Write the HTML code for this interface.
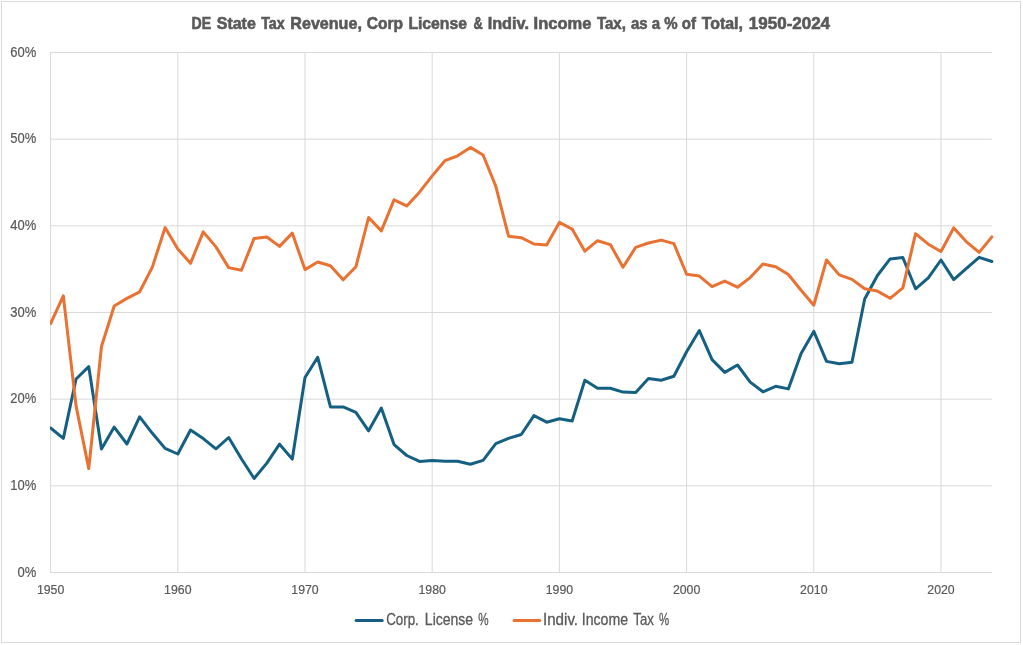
<!DOCTYPE html>
<html lang="en">
<head>
<meta charset="utf-8">
<title>DE State Tax Revenue</title>
<style>
html,body{margin:0;padding:0;background:#fff;}
body{width:1023px;height:645px;overflow:hidden;font-family:"Liberation Sans",sans-serif;}
svg{display:block;}
.tick text{font-family:"Liberation Sans",sans-serif;font-size:12.3px;fill:#595959;stroke:#595959;stroke-width:0.2px;}
.tick text.yl{font-size:14px;}
.title{font-family:"Liberation Sans",sans-serif;font-size:16.3px;font-weight:bold;fill:#595959;stroke:#595959;stroke-width:0.6px;}
.leg{font-family:"Liberation Sans",sans-serif;font-size:15.7px;fill:#595959;stroke:#595959;stroke-width:0.3px;}
</style>
</head>
<body>
<svg width="1023" height="645" viewBox="0 0 1023 645">
<rect x="0" y="0" width="1023" height="645" fill="#ffffff"/>
<rect x="1.5" y="1.5" width="1019" height="641" fill="none" stroke="#D9D9D9" stroke-width="1"/>
<g stroke="#D9D9D9" stroke-width="1" fill="none">
<line x1="50.10" y1="572.50" x2="991.88" y2="572.50"/>
<line x1="50.10" y1="485.83" x2="991.88" y2="485.83"/>
<line x1="50.10" y1="399.16" x2="991.88" y2="399.16"/>
<line x1="50.10" y1="312.49" x2="991.88" y2="312.49"/>
<line x1="50.10" y1="225.82" x2="991.88" y2="225.82"/>
<line x1="50.10" y1="139.15" x2="991.88" y2="139.15"/>
<line x1="50.10" y1="52.48" x2="991.88" y2="52.48"/>
<line x1="50.60" y1="51.98" x2="50.60" y2="573.00"/>
<line x1="177.80" y1="51.98" x2="177.80" y2="573.00"/>
<line x1="305.00" y1="51.98" x2="305.00" y2="573.00"/>
<line x1="432.20" y1="51.98" x2="432.20" y2="573.00"/>
<line x1="559.40" y1="51.98" x2="559.40" y2="573.00"/>
<line x1="686.60" y1="51.98" x2="686.60" y2="573.00"/>
<line x1="813.80" y1="51.98" x2="813.80" y2="573.00"/>
<line x1="941.00" y1="51.98" x2="941.00" y2="573.00"/>
</g>
<text class="title" y="29.4"><tspan x="191.48" textLength="19.59" lengthAdjust="spacingAndGlyphs">DE</tspan> <tspan x="216.75" textLength="39.1" lengthAdjust="spacingAndGlyphs">State</tspan> <tspan x="261.2" textLength="23.55" lengthAdjust="spacingAndGlyphs">Tax</tspan> <tspan x="290.36" textLength="71.5" lengthAdjust="spacingAndGlyphs">Revenue,</tspan> <tspan x="366.7" textLength="36.25" lengthAdjust="spacingAndGlyphs">Corp</tspan> <tspan x="408.38" textLength="58.62" lengthAdjust="spacingAndGlyphs">License</tspan> <tspan x="473.4" textLength="9.26" lengthAdjust="spacingAndGlyphs">&amp;</tspan> <tspan x="487.7" textLength="41.22" lengthAdjust="spacingAndGlyphs">Indiv.</tspan> <tspan x="533.58" textLength="57.87" lengthAdjust="spacingAndGlyphs">Income</tspan> <tspan x="596.9" textLength="28.98" lengthAdjust="spacingAndGlyphs">Tax,</tspan> <tspan x="630.95" textLength="65.02" lengthAdjust="spacingAndGlyphs">as a % of</tspan> <tspan x="701.7" textLength="41.21" lengthAdjust="spacingAndGlyphs">Total,</tspan> <tspan x="748.86" textLength="81.2" lengthAdjust="spacingAndGlyphs">1950-2024</tspan></text>
<g class="tick">
<text class="yl" x="17.46" y="576.65" textLength="18.79" lengthAdjust="spacingAndGlyphs">0%</text>
<text class="yl" x="10.24" y="489.98" textLength="26.01" lengthAdjust="spacingAndGlyphs">10%</text>
<text class="yl" x="10.24" y="403.31" textLength="26.01" lengthAdjust="spacingAndGlyphs">20%</text>
<text class="yl" x="10.24" y="316.64" textLength="26.01" lengthAdjust="spacingAndGlyphs">30%</text>
<text class="yl" x="10.24" y="229.97" textLength="26.01" lengthAdjust="spacingAndGlyphs">40%</text>
<text class="yl" x="10.24" y="143.30" textLength="26.01" lengthAdjust="spacingAndGlyphs">50%</text>
<text class="yl" x="10.24" y="56.63" textLength="26.01" lengthAdjust="spacingAndGlyphs">60%</text>
<text x="50.60" y="594" text-anchor="middle">1950</text>
<text x="177.80" y="594" text-anchor="middle">1960</text>
<text x="305.00" y="594" text-anchor="middle">1970</text>
<text x="432.20" y="594" text-anchor="middle">1980</text>
<text x="559.40" y="594" text-anchor="middle">1990</text>
<text x="686.60" y="594" text-anchor="middle">2000</text>
<text x="813.80" y="594" text-anchor="middle">2010</text>
<text x="941.00" y="594" text-anchor="middle">2020</text>
</g>
<clipPath id="plotclip"><rect x="50.1" y="40" width="960" height="545"/></clipPath>
<g clip-path="url(#plotclip)">
<polyline fill="none" stroke="#156082" stroke-width="3" stroke-linejoin="round" stroke-linecap="round" points="50.60,428.0 63.32,438.4 76.04,379.0 88.76,366.7 101.48,448.9 114.20,427.1 126.92,444.0 139.64,416.8 152.36,433.3 165.08,448.4 177.80,454.0 190.52,430.0 203.24,438.6 215.96,448.8 228.68,437.5 241.40,458.7 254.12,478.5 266.84,463.1 279.56,444.2 292.28,459.1 305.00,377.5 317.72,357.3 330.44,406.9 343.16,406.9 355.88,412.3 368.60,430.8 381.32,408.1 394.04,444.6 406.76,455.5 419.48,461.4 432.20,460.6 444.92,461.2 457.64,461.2 470.36,464.3 483.08,460.4 495.80,443.7 508.52,438.4 521.24,434.5 533.96,415.6 546.68,422.2 559.40,418.7 572.12,421.0 584.84,380.3 597.56,388.2 610.28,388.2 623.00,392.1 635.72,392.5 648.44,378.5 661.16,380.3 673.88,376.2 686.60,351.8 699.32,330.6 712.04,359.6 724.76,372.4 737.48,365.0 750.20,382.1 762.92,391.8 775.64,386.3 788.36,388.9 801.08,353.5 813.80,331.4 826.52,361.4 839.24,363.8 851.96,362.3 864.68,299.0 877.40,275.5 890.12,258.9 902.84,257.5 915.56,288.8 928.28,277.9 941.00,260.0 953.72,279.6 966.44,268.4 979.16,257.3 991.88,261.5"/>
<polyline fill="none" stroke="#E97132" stroke-width="3" stroke-linejoin="round" stroke-linecap="round" points="50.60,323.5 63.32,295.9 76.04,405.9 88.76,468.6 101.48,346.5 114.20,306.0 126.92,298.4 139.64,291.8 152.36,267.1 165.08,227.6 177.80,248.9 190.52,263.3 203.24,231.9 215.96,246.9 228.68,267.6 241.40,270.2 254.12,238.4 266.84,237.0 279.56,246.4 292.28,233.1 305.00,269.6 317.72,262.0 330.44,265.8 343.16,279.8 355.88,266.8 368.60,217.5 381.32,230.9 394.04,199.9 406.76,205.9 419.48,192.2 432.20,175.9 444.92,160.7 457.64,155.8 470.36,147.4 483.08,155.0 495.80,186.3 508.52,236.2 521.24,237.7 533.96,244.0 546.68,245.0 559.40,222.4 572.12,229.1 584.84,251.2 597.56,240.7 610.28,244.6 623.00,267.2 635.72,247.3 648.44,243.0 661.16,240.1 673.88,243.6 686.60,274.3 699.32,276.1 712.04,286.6 724.76,281.1 737.48,287.2 750.20,277.6 762.92,264.0 775.64,266.8 788.36,274.5 801.08,290.2 813.80,305.2 826.52,260.0 839.24,274.9 851.96,279.4 864.68,288.8 877.40,291.1 890.12,298.3 902.84,287.8 915.56,233.7 928.28,244.2 941.00,251.5 953.72,227.9 966.44,241.8 979.16,252.4 991.88,236.9"/>
</g>
<line x1="356.1" y1="620.4" x2="382.2" y2="620.4" stroke="#156082" stroke-width="3" stroke-linecap="round"/>
<text class="leg" y="624.8"><tspan x="386.15" textLength="32.66" lengthAdjust="spacingAndGlyphs">Corp.</tspan> <tspan x="424.86" textLength="48.25" lengthAdjust="spacingAndGlyphs">License</tspan> <tspan x="478.35" textLength="10.36" lengthAdjust="spacingAndGlyphs">%</tspan></text>
<line x1="514.1" y1="620.4" x2="539.8" y2="620.4" stroke="#E97132" stroke-width="3" stroke-linecap="round"/>
<text class="leg" y="624.8"><tspan x="542.98" textLength="35.08" lengthAdjust="spacingAndGlyphs">Indiv.</tspan> <tspan x="581.75" textLength="46.35" lengthAdjust="spacingAndGlyphs">Income</tspan> <tspan x="633.35" textLength="20.57" lengthAdjust="spacingAndGlyphs">Tax</tspan> <tspan x="658.95" textLength="10.16" lengthAdjust="spacingAndGlyphs">%</tspan></text>
</svg>
</body>
</html>
